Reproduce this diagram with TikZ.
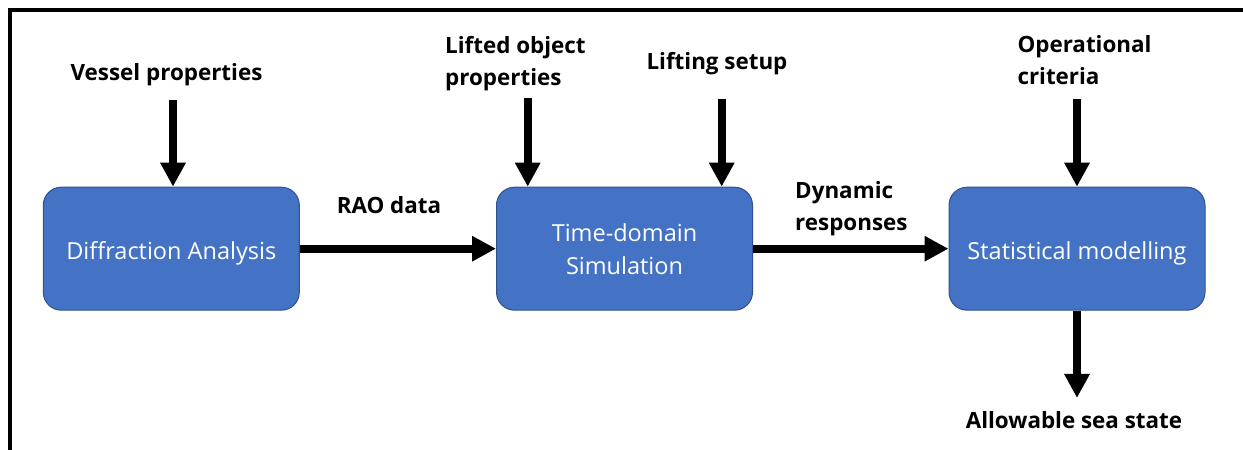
\documentclass[tikz,border=0pt]{standalone}
\usepackage{fontspec}
\setmainfont{Open Sans}
\usetikzlibrary{arrows.meta}
\definecolor{boxblue}{HTML}{4472C4}
\definecolor{boxedge}{HTML}{2F528F}
\tikzset{
  procbox/.style={draw=boxedge, line width=1bp, fill=boxblue, rounded corners=18bp,
    minimum width=256bp, minimum height=123bp, inner sep=0pt, text=white, align=center,
    font=\fontsize{23.5bp}{33bp}\selectfont},
  oneline/.style={text height=21.2bp, text depth=0pt},
  lbl/.style={inner sep=0pt, font=\fontsize{22.4bp}{32bp}\selectfont\bfseries},
  flow/.style={line width=8bp, -{Triangle[length=24bp 0 0, width=24bp 0 0]}},
  frame/.style={line width=4bp, black}
}
\begin{document}
\begin{tikzpicture}[x=1bp, y=-1bp]
\useasboundingbox (0,0) rectangle (1243,450);
\draw[frame] (10,450) -- (10,10) -- (1243,10);
% process boxes
\node[procbox, oneline] (b1) at (171.3,248.7) {Diffraction Analysis};
\node[procbox] (b2) at (624.5,248.7) {Time-domain\\Simulation};
\node[procbox, oneline] (b3) at (1077,248.7) {Statistical modelling};
% labels
\node[lbl, anchor=base] (vp) at (166.5,81) {Vessel properties};
\node[lbl, anchor=base west, align=left] (lo) at (445,85.3) {Lifted object\\properties};
\node[lbl, anchor=base] (ls) at (717,70) {Lifting setup};
\node[lbl, anchor=base west, align=left] (oc) at (1017.3,85) {Operational\\criteria};
\node[lbl, anchor=base west, align=left] (dr) at (795,230.5) {Dynamic\\responses};
\node[lbl, anchor=base] (rao) at (389,214) {RAO data};
\node[lbl, anchor=base] (as) at (1074,428.3) {Allowable sea state};
% arrow start/end coordinates
\coordinate (vpa) at (173,100);
\coordinate (loa) at (527.7,98);
\coordinate (lsa) at (721.7,99);
\coordinate (oca) at (1077,99);
\coordinate (asa) at (1077,398);
% connectors
\draw[flow] (vpa) -- (vpa |- b1.north);
\draw[flow] (loa) -- (loa |- b2.north);
\draw[flow] (lsa) -- (lsa |- b2.north);
\draw[flow] (oca) -- (oca |- b3.north);
\draw[flow] (b1.east) -- (b2.west);
\draw[flow] (b2.east) -- (b3.west);
\draw[flow] (b3.south) -- (asa);
\end{tikzpicture}
\end{document}
